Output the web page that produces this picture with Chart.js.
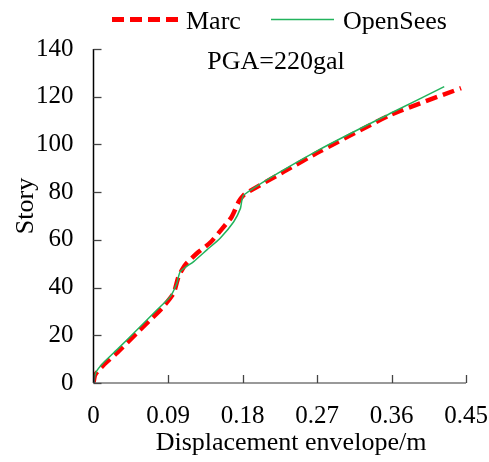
<!DOCTYPE html>
<html>
<head>
<meta charset="utf-8">
<script src="https://cdn.jsdelivr.net/npm/chart.js@4/dist/chart.umd.min.js"></script>
<style>
  html, body { margin: 0; padding: 0; background: #fff; }
  #wrap { width: 489px; height: 462px; position: relative; }
</style>
</head>
<body>
<div id="wrap"><canvas id="storyChart" width="489" height="462"></canvas></div>
<script>
// Data
const marcX = [0, 0.002, 0.012, 0.028, 0.056, 0.0705, 0.0826, 0.0967, 0.1027, 0.1108, 0.125, 0.141, 0.155, 0.167, 0.1754, 0.1815, 0.1875, 0.230, 0.2743, 0.3592, 0.444];
const marcY = [0, 3.4, 7.5, 12.5, 22.2, 27.1, 31.3, 37.6, 44.6, 49.5, 54.4, 58.8, 64.5, 69.7, 76, 78.8, 80.2, 88.6, 97.2, 112.4, 123.6];
const openSeesX = [0, 0.003, 0.012, 0.030, 0.056, 0.0765, 0.0927, 0.1007, 0.1048, 0.121, 0.137, 0.153, 0.1694, 0.1775, 0.1815, 0.2723, 0.3632, 0.4237];
const openSeesY = [0, 4.5, 8.5, 14.5, 23.5, 30.6, 36.2, 41.8, 46.7, 50.9, 55.8, 60.7, 67.6, 73.2, 78.8, 97.7, 113.8, 124.2];
const xTicks = [0, 0.09, 0.18, 0.27, 0.36, 0.45];
const yTicks = [0, 20, 40, 60, 80, 100, 120, 140];

const FONT = '"Liberation Serif", "Times New Roman", serif';
const RED = '#ff0000';
const GREEN = '#22b35c';

function pairs(xs, ys) {
    return xs.map((x, i) => ({ x: x, y: ys[i] }));
}

// Inward tick marks, axis titles, annotation and legend
const decorations = {
    id: 'decorations',
    afterDraw(chart) {
        const ctx = chart.ctx;
        const xs = chart.scales.x, ys = chart.scales.y;
        const a = chart.chartArea;
        ctx.save();
        // axes
        ctx.lineWidth = 1.5;
        ctx.strokeStyle = '#000';
        ctx.beginPath();
        ctx.moveTo(a.left, a.top);
        ctx.lineTo(a.left, a.bottom);
        ctx.stroke();
        ctx.strokeStyle = '#777';
        ctx.beginPath();
        ctx.moveTo(a.left, a.bottom);
        ctx.lineTo(a.right, a.bottom);
        ctx.stroke();
        // ticks pointing inward
        ctx.strokeStyle = '#444';
        ctx.lineWidth = 1.3;
        yTicks.forEach(v => {
            const p = Math.round(ys.getPixelForValue(v)) + 0.5;
            ctx.beginPath();
            ctx.moveTo(a.left, p);
            ctx.lineTo(a.left + 8, p);
            ctx.stroke();
        });
        xTicks.forEach(v => {
            const p = Math.round(xs.getPixelForValue(v)) + 0.5;
            ctx.beginPath();
            ctx.moveTo(p, a.bottom);
            ctx.lineTo(p, a.bottom - 8);
            ctx.stroke();
        });

        ctx.fillStyle = '#000';
        ctx.textBaseline = 'alphabetic';
        // x title
        ctx.font = '26px ' + FONT;
        ctx.textAlign = 'center';
        ctx.fillText('Displacement envelope/m', 291, 450);
        // annotation
        ctx.fillText('PGA=220gal', 276, 69);
        // y title
        ctx.save();
        ctx.translate(33, 206);
        ctx.rotate(-Math.PI / 2);
        ctx.fillText('Story', 0, 0);
        ctx.restore();

        // legend
        ctx.textAlign = 'left';
        ctx.strokeStyle = RED;
        ctx.lineWidth = 5;
        ctx.setLineDash([12, 6]);
        ctx.beginPath();
        ctx.moveTo(112, 19.5);
        ctx.lineTo(178, 19.5);
        ctx.stroke();
        ctx.setLineDash([]);
        ctx.fillText('Marc', 186, 29);
        ctx.strokeStyle = GREEN;
        ctx.lineWidth = 1.5;
        ctx.beginPath();
        ctx.moveTo(271, 19.5);
        ctx.lineTo(334, 19.5);
        ctx.stroke();
        ctx.fillText('OpenSees', 343, 29);
        ctx.restore();
    }
};

const chart = new Chart(document.getElementById('storyChart'), {
    type: 'scatter',
    data: {
        datasets: [
            {
                label: 'OpenSees',
                data: pairs(openSeesX, openSeesY),
                showLine: true,
                borderColor: GREEN,
                borderWidth: 1.5,
                pointRadius: 0,
                tension: 0.2
            },
            {
                label: 'Marc',
                data: pairs(marcX, marcY),
                showLine: true,
                borderColor: RED,
                borderWidth: 4.5,
                borderDash: [12, 6],
                pointRadius: 0,
                tension: 0.2
            }
        ]
    },
    options: {
        responsive: false,
        animation: false,
        layout: { padding: { top: 49, right: 0, left: 0, bottom: 0 } },
        plugins: {
            legend: { display: false },
            tooltip: { enabled: false }
        },
        scales: {
            x: {
                type: 'linear',
                min: 0,
                max: 0.45,
                border: { display: false },
                grid: { display: false, drawTicks: false },
                afterBuildTicks: s => { s.ticks = xTicks.map(v => ({ value: v })); },
                afterFit: s => { s.height = 79; s.paddingRight = 23; s.paddingLeft = 0; },
                ticks: {
                    color: '#000',
                    font: { family: FONT, size: 25 },
                    padding: 18,
                    maxRotation: 0,
                    callback: v => v === 0 ? '0' : v.toFixed(2)
                }
            },
            y: {
                type: 'linear',
                min: 0,
                max: 140,
                border: { display: false },
                grid: { display: false, drawTicks: false },
                afterBuildTicks: s => { s.ticks = yTicks.map(v => ({ value: v })); },
                afterFit: s => { s.width = 93.5; s.paddingTop = 0; s.paddingBottom = 0; },
                ticks: {
                    color: '#000',
                    font: { family: FONT, size: 25 },
                    padding: 20
                }
            }
        }
    },
    plugins: [decorations]
});
</script>
</body>
</html>
